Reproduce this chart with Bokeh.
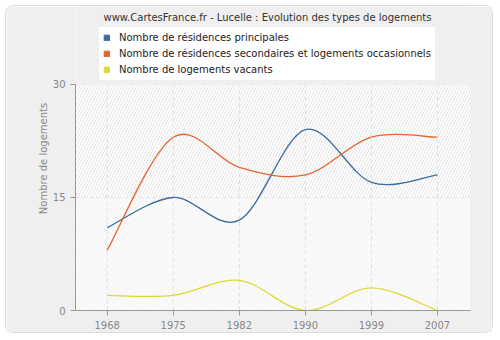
import numpy as np
from bokeh.plotting import figure
from bokeh.models import (FixedTicker, Range1d, Legend, LegendItem, BoxAnnotation, Label)
from bokeh.embed import file_html
from bokeh.resources import INLINE

years = ["1968", "1975", "1982", "1990", "1999", "2007"]
principales = [11, 15, 12, 24, 17, 18]
secondaires = [8, 23, 19, 18, 23, 23]
vacants = [2, 2, 4, 0, 3, 0]

names = ["Nombre de résidences principales",
         "Nombre de résidences secondaires et logements occasionnels",
         "Nombre de logements vacants"]
colors = ["#3a6b9e", "#e6632e", "#dfd836"]
title_text = "www.CartesFrance.fr - Lucelle : Evolution des types de logements"

FONT = "DejaVu Sans"
FS = "10px"
YMAX = 30
YTOP = 40.35

p = figure(width=488, height=328, output_backend="svg", toolbar_location=None,
           x_range=Range1d(-0.48, 5.5), y_range=Range1d(0, YTOP),
           min_border_left=69, min_border_right=24, min_border_top=0, min_border_bottom=24,
           background_fill_color="#efefef", border_fill_color="#efefef",
           outline_line_color=None, margin=(5, 5, 5, 5),
           styles={"border": "1px solid #dcdcdc", "border-radius": "8px"})

# plot area (0..30)
p.add_layout(BoxAnnotation(bottom=15, top=YMAX, fill_color="#ffffff", fill_alpha=1,
                           line_alpha=0, hatch_pattern="/", hatch_color="#e4e4e4",
                           hatch_scale=6, hatch_weight=1, level="underlay"))
p.add_layout(BoxAnnotation(bottom=0, top=15, fill_color="#fcfcfc", fill_alpha=1,
                           line_alpha=0, hatch_pattern="/", hatch_color="#f2f2f2",
                           hatch_scale=6, hatch_weight=1, level="underlay"))
p.add_layout(BoxAnnotation(bottom=0, top=YMAX, fill_alpha=0, line_color="#e2e2e2",
                           line_width=1, level="underlay"))

x = np.arange(len(years), dtype=float)

# vertical dashed grid lines at each year, limited to the plot area
p.segment(x0=x, y0=[0] * len(x), x1=x, y1=[YMAX] * len(x), line_color="#e0e0e0",
          line_dash="4 3", line_width=1)
# horizontal dashed grid line at 15
p.segment(x0=[-0.48], y0=[15], x1=[5.5], y1=[15], line_color="#e0e0e0",
          line_dash="4 3", line_width=1)

def bezier_segments(xs, ys):
    xs = np.asarray(xs, float)
    ys = np.asarray(ys, float)
    n = len(xs)
    px = np.concatenate([[xs[0]], xs, [xs[-1]]])
    py = np.concatenate([[ys[0]], ys, [ys[-1]]])
    d = dict(x0=[], y0=[], x1=[], y1=[], cx0=[], cy0=[], cx1=[], cy1=[])
    for i in range(n - 1):
        a, b, c, e = i, i + 1, i + 2, i + 3
        d["x0"].append(px[b]); d["y0"].append(py[b])
        d["x1"].append(px[c]); d["y1"].append(py[c])
        d["cx0"].append(px[b] + (px[c] - px[a]) / 6)
        d["cy0"].append(py[b] + (py[c] - py[a]) / 6)
        d["cx1"].append(px[c] - (px[e] - px[b]) / 6)
        d["cy1"].append(py[c] - (py[e] - py[b]) / 6)
    return d

items = []
for series, col, name in zip([principales, secondaires, vacants], colors, names):
    seg = bezier_segments(x, series)
    p.bezier(x0="x0", y0="y0", x1="x1", y1="y1", cx0="cx0", cy0="cy0",
             cx1="cx1", cy1="cy1", source=seg, line_color=col, line_width=1.3)
    r = p.quad(left=[np.nan], right=[np.nan], bottom=[np.nan], top=[np.nan],
               fill_color=col, line_color=col)
    items.append(LegendItem(label=name, renderers=[r]))

legend = Legend(items=items, location=(24, 230), background_fill_color="#ffffff",
                background_fill_alpha=1, border_line_alpha=0,
                label_text_font=FONT, label_text_font_size=FS,
                label_text_color="#222222", glyph_width=7, glyph_height=7,
                label_height=13, spacing=3, padding=4, margin=0,
                label_standoff=9)
p.add_layout(legend, "center")

p.add_layout(Label(x=192, y=293, x_units="screen", y_units="screen", text=title_text,
                   text_align="center", text_baseline="middle", text_font=FONT,
                   text_font_size=FS, text_color="#333333"))

p.xaxis.ticker = FixedTicker(ticks=list(range(len(years))))
p.xaxis.major_label_overrides = {i: y for i, y in enumerate(years)}
p.yaxis.ticker = FixedTicker(ticks=[0, 15, 30])
p.yaxis.bounds = (0, YMAX)

for ax in (p.xaxis, p.yaxis):
    ax.axis_line_color = "#999999"
    ax.major_tick_line_color = "#999999"
    ax.minor_tick_line_color = None
    ax.major_tick_out = 5
    ax.major_tick_in = 0
    ax.major_label_text_color = "#888888"
    ax.major_label_text_font = FONT
    ax.major_label_text_font_size = FS

p.yaxis.axis_label = "Nombre de logements"
p.yaxis.axis_label_text_font = FONT
p.yaxis.axis_label_text_font_size = FS
p.yaxis.axis_label_text_font_style = "normal"
p.yaxis.axis_label_text_color = "#888888"
p.yaxis.axis_label_standoff = 1

p.xgrid.grid_line_color = None
p.ygrid.grid_line_color = None

open("out.html", "w").write(file_html(p, INLINE))
